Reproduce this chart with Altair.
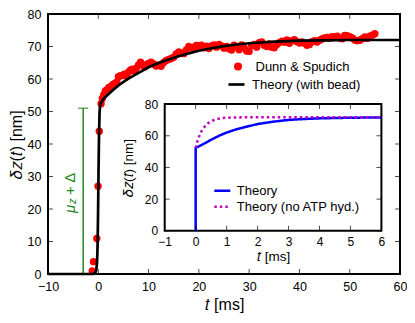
import altair as alt
import pandas as pd

# ---------------- data ----------------
dunn_t = [-1.2, -0.95, -0.3, -0.05, 0.2, 0.55, 0.8, 1.1, 1.4, 1.8, 2.1, 2.5, 2.9, 3.3, 3.7,
          4.0, 4.4, 4.8, 5.2, 5.6, 6.0, 6.4, 6.8, 7.2, 7.6, 8.0, 8.4, 8.8, 9.2, 9.6,
          10.0, 10.5, 11.0, 11.5, 12.0, 12.5, 13.0, 13.5, 14.0, 14.5, 15.0, 15.5, 16.0, 16.5, 17.0,
          17.5, 18.0, 18.5, 19.0, 19.5, 20.0, 20.5, 21.0, 21.5, 22.0, 22.5, 23.0, 23.5, 24.0, 24.5,
          25.0, 25.5, 26.0, 26.5, 27.0, 27.5, 28.0, 28.5, 29.0, 29.5, 30.0, 30.5, 31.0, 31.5, 32.0,
          32.5, 33.0, 33.5, 34.0, 34.5, 35.0, 35.5, 36.0, 36.5, 37.0, 37.5, 38.0, 38.5, 39.0, 39.5,
          40.0, 40.5, 41.0, 41.5, 42.0, 42.5, 43.0, 43.5, 44.0, 44.5, 45.0, 45.5, 46.0, 46.5, 47.0,
          47.5, 48.0, 48.5, 49.0, 49.5, 50.0, 50.5, 51.0, 51.5, 52.0, 52.5, 53.0, 53.5, 54.0, 54.5, 55.0]
dunn_z = [0.9, 3.8, 10.9, 27.0, 43.9, 52.4, 54.0, 55.2, 56.3, 56.8, 57.4, 57.7, 58.3, 58.6, 59.1,
          60.7, 61.0, 61.1, 61.5, 60.9, 62.1, 62.8, 63.0, 62.5, 63.4, 64.3, 65.2, 64.2, 63.7, 64.5,
          64.8, 65.2, 64.6, 64.0, 64.3, 63.9, 65.1, 65.7, 66.0, 66.3, 66.7, 67.7, 68.3, 68.0, 67.8,
          68.9, 70.0, 69.6, 69.8, 70.3, 70.0, 70.4, 69.6, 70.1, 69.4, 70.2, 70.5, 69.8, 70.6, 70.2,
          69.5, 70.0, 69.3, 68.9, 70.4, 69.9, 69.0, 70.5, 69.6, 68.6, 68.5, 70.3, 70.6, 69.8, 71.2,
          71.4, 70.4, 70.0, 70.8, 69.8, 69.6, 70.6, 71.2, 71.6, 71.3, 72.0, 71.0, 71.8, 72.1, 71.5,
          71.1, 71.4, 71.0, 70.4, 70.6, 71.5, 71.8, 71.4, 71.9, 72.3, 72.6, 72.8, 72.5, 73.0, 72.9,
          73.2, 72.6, 72.4, 73.4, 73.3, 73.0, 72.6, 72.0, 71.8, 71.9, 72.4, 72.9, 72.5, 73.2, 73.5, 73.9]

bead_t = [-10, -1.0, -0.6, -0.4, -0.25, -0.15, -0.05, 0.05, 0.15, 0.25, 0.35, 0.5, 1, 2, 3, 4, 5, 6,
          8, 10, 12, 14, 16, 18, 20, 22, 25, 28, 30, 35, 40, 45, 50, 55, 60]
bead_z = [0, 0, 0.3, 1.2, 3.5, 8, 18, 32, 43, 49.5, 51.8, 52.6, 53.8, 55.3, 56.7, 58.0, 59.1, 60.1,
          61.9, 63.6, 64.9, 66.0, 67.0, 67.9, 68.7, 69.3, 70.1, 70.7, 71.0, 71.5, 71.8, 71.9, 72.0, 72.0, 72.0]

theory_t = [0, 0, 0.1, 0.2, 0.4, 0.6, 0.8, 1.0, 1.3, 1.6, 2.0, 2.5, 3.0, 3.5, 4.0, 5.0, 6.0]
theory_z = [0, 52.3, 53.3, 54.3, 56.4, 58.5, 60.4, 62.0, 64.0, 65.5, 67.4, 68.9, 70.0, 70.6, 71.0, 71.4, 71.6]

noatp_t = [0, 0.05, 0.1, 0.15, 0.2, 0.3, 0.4, 0.5, 0.65, 0.8, 1.0, 1.3, 2.0, 3.0, 4.0, 5.0, 6.0]
noatp_z = [52.3, 56.2, 59.0, 61.4, 63.3, 66.0, 67.9, 69.2, 70.4, 71.0, 71.4, 71.6, 71.7, 71.7, 71.7, 71.7, 71.7]

main_xticks = [-10, 0, 10, 20, 30, 40, 50, 60]
main_yticks = [0, 10, 20, 30, 40, 50, 60, 70, 80]
inset_xticks = [-1, 0, 1, 2, 3, 4, 5, 6]
inset_yticks = [0, 20, 40, 60, 80]

series_main = ["Dunn & Spudich", "Theory (with bead)"]
series_inset = ["Theory", "Theory (no ATP hyd.)"]

mu_delta = 51        # height of the jump bar (nm)
mu_delta_t = -3      # time position of the bar (ms)
label_t, label_z = -5.7, 18.8

# ---------------- style / layout ----------------
FONT = "Liberation Sans"
GREEN = "#228b22"
RED = "#ff0000"
BLUE = "#0000ff"
MAGENTA = "#c000c0"
W, H = 352, 260
INSET_XR = [116.7, 333.4]
INSET_YR = [216.8, 90.1]

ax_main_x = alt.Axis(values=main_xticks, title="𝑡 [ms]", labelFontSize=12.5, titleFontSize=16,
                     labelPadding=6, titlePadding=4, labelFlush=False, labelOverlap=False)
ax_main_y = alt.Axis(values=main_yticks, title="𝛿𝑧(𝑡) [nm]", labelFontSize=12.5, titleFontSize=16,
                     labelPadding=7, titlePadding=3, labelFlush=False, labelOverlap=False)
ax_in_x = alt.Axis(orient="bottom", offset=-(H - INSET_YR[0]), values=inset_xticks, title="𝑡 [ms]",
                   labelFontSize=12, titleFontSize=13.5, labelPadding=6, titlePadding=2,
                   labelFlush=False, labelOverlap=False)
ax_in_y = alt.Axis(orient="left", offset=-INSET_XR[0], values=inset_yticks, title="𝛿𝑧(𝑡) [nm]",
                   labelFontSize=12, titleFontSize=13.5, labelPadding=7, titlePadding=9,
                   labelFlush=False, labelOverlap=False)


def mx(field=None, datum=None):
    sc = alt.Scale(domain=[-10, 60], nice=False, zero=False)
    if datum is not None:
        return alt.XDatum(datum, type="quantitative", scale=sc, axis=ax_main_x)
    return alt.X(field, type="quantitative", scale=sc, axis=ax_main_x)


def my(field=None, datum=None):
    sc = alt.Scale(domain=[0, 80], nice=False, zero=False)
    if datum is not None:
        return alt.YDatum(datum, type="quantitative", scale=sc, axis=ax_main_y)
    return alt.Y(field, type="quantitative", scale=sc, axis=ax_main_y)


def ix(field=None, datum=None):
    sc = alt.Scale(domain=[-1, 6], range=INSET_XR, nice=False, zero=False)
    if datum is not None:
        return alt.XDatum(datum, type="quantitative", scale=sc, axis=ax_in_x)
    return alt.X(field, type="quantitative", scale=sc, axis=ax_in_x)


def iy(field=None, datum=None):
    sc = alt.Scale(domain=[0, 80], range=INSET_YR, nice=False, zero=False)
    if datum is not None:
        return alt.YDatum(datum, type="quantitative", scale=sc, axis=ax_in_y)
    return alt.Y(field, type="quantitative", scale=sc, axis=ax_in_y)


one = pd.DataFrame({"k": [0]})

# ---------------- main panel ----------------
dunn_df = pd.DataFrame({"t": dunn_t, "z": dunn_z, "src": series_main[0]})
bead_df = pd.DataFrame({"t": bead_t, "z": bead_z, "src": series_main[1], "i": range(len(bead_t))})

green_bar = alt.Chart(one).mark_rule(color=GREEN, strokeWidth=1.5).encode(
    x=mx(datum=mu_delta_t), y=my(datum=0), y2=alt.Y2Datum(mu_delta))
green_caps = alt.Chart(pd.DataFrame({"v": [0, mu_delta]})).mark_tick(
    orient="horizontal", size=10, thickness=1.5, color=GREEN).encode(
    x=mx(datum=mu_delta_t), y=my("v"))
txt_common = dict(angle=270, align="left", baseline="middle", font=FONT, color=GREEN)
g_mu = alt.Chart(one).mark_text(text="μ", fontSize=15, fontStyle="italic", **txt_common).encode(
    x=mx(datum=label_t), y=my(datum=label_z))
g_z = alt.Chart(one).mark_text(text="z", fontSize=11, fontStyle="italic", dx=9, dy=3, **txt_common).encode(
    x=mx(datum=label_t), y=my(datum=label_z))
g_rest = alt.Chart(one).mark_text(text="+ Δ", fontSize=15, dx=18, **txt_common).encode(
    x=mx(datum=label_t), y=my(datum=label_z))

points = alt.Chart(dunn_df).mark_point(filled=True, size=55, opacity=1, shape="circle").encode(
    x=mx("t"), y=my("z"),
    fill=alt.Fill("src:N", scale=alt.Scale(domain=[series_main[0]], range=[RED]),
                  legend=alt.Legend(orient="none", legendX=183.5, legendY=46, title=None,
                                    symbolType="circle", symbolSize=64, labelFontSize=13,
                                    labelOffset=11, padding=0)))
bead = alt.Chart(bead_df).mark_line(strokeWidth=2.7).encode(
    x=mx("t"), y=my("z"),
    order="i:Q",
    stroke=alt.Stroke("src:N", scale=alt.Scale(domain=[series_main[1]], range=["black"]),
                      legend=alt.Legend(orient="none", legendX=179, legendY=61, title=None,
                                        symbolType="stroke", symbolSize=256, symbolStrokeWidth=2.7,
                                        labelFontSize=13, labelOffset=6, padding=0)))

xt = pd.DataFrame({"v": main_xticks})
yt = pd.DataFrame({"v": main_yticks})
tick_kw = dict(size=5, thickness=1, color="black")
tb = alt.Chart(xt).mark_tick(orient="vertical", yOffset=-2.5, **tick_kw).encode(x=mx("v"), y=my(datum=0))
tt = alt.Chart(xt).mark_tick(orient="vertical", yOffset=2.5, **tick_kw).encode(x=mx("v"), y=my(datum=80))
tl = alt.Chart(yt).mark_tick(orient="horizontal", xOffset=2.5, **tick_kw).encode(y=my("v"), x=mx(datum=-10))
tr = alt.Chart(yt).mark_tick(orient="horizontal", xOffset=-2.5, **tick_kw).encode(y=my("v"), x=mx(datum=60))

main = alt.layer(green_bar, green_caps, g_mu, g_z, g_rest, points, bead, tb, tt, tl, tr)

# ---------------- inset ----------------
inset_df = pd.concat([
    pd.DataFrame({"t": theory_t, "z": theory_z, "model": series_inset[0], "i": range(len(theory_t))}),
    pd.DataFrame({"t": noatp_t, "z": noatp_z, "model": series_inset[1], "i": range(len(noatp_t))}),
])

inset_bg = alt.Chart(one).mark_rect(fill="white", stroke="black", strokeWidth=2).encode(
    x=ix(datum=-1), x2=alt.X2Datum(6), y=iy(datum=0), y2=alt.Y2Datum(80))

in_legend = alt.Legend(orient="none", legendX=164.8, legendY=169, title=None, symbolType="stroke",
                       symbolSize=256, symbolStrokeWidth=2.5, labelFontSize=13, labelOffset=5,
                       padding=0, rowPadding=0, clipHeight=15.4)
in_lines = alt.Chart(inset_df).mark_line(strokeWidth=2.5).encode(
    x=ix("t"), y=iy("z"),
    order="i:Q",
    stroke=alt.Stroke("model:N", scale=alt.Scale(domain=series_inset, range=[BLUE, MAGENTA]), legend=in_legend),
    strokeDash=alt.StrokeDash("model:N", scale=alt.Scale(domain=series_inset, range=[[1, 0], [2.5, 3]]),
                              legend=in_legend))

ixt = pd.DataFrame({"v": inset_xticks})
iyt = pd.DataFrame({"v": inset_yticks})
itb = alt.Chart(ixt).mark_tick(orient="vertical", yOffset=-2.5, **tick_kw).encode(x=ix("v"), y=iy(datum=0))
itt = alt.Chart(ixt).mark_tick(orient="vertical", yOffset=2.5, **tick_kw).encode(x=ix("v"), y=iy(datum=80))
itl = alt.Chart(iyt).mark_tick(orient="horizontal", xOffset=2.5, **tick_kw).encode(y=iy("v"), x=ix(datum=-1))
itr = alt.Chart(iyt).mark_tick(orient="horizontal", xOffset=-2.5, **tick_kw).encode(y=iy("v"), x=ix(datum=6))

inset = alt.layer(inset_bg, in_lines, itb, itt, itl, itr)

chart = alt.layer(main, inset).resolve_scale(
    x="independent", y="independent", fill="independent", stroke="independent", strokeDash="independent"
).properties(
    width=W, height=H, autosize=alt.AutoSizeParams(type="none"),
    padding={"left": 40, "top": 6, "right": 7, "bottom": 41}
).configure_view(stroke="black", strokeWidth=2).configure_axis(
    labelFont=FONT, titleFont=FONT, labelColor="black", titleColor="black", titleFontWeight="normal",
    grid=False, domain=False, ticks=False
).configure_legend(labelFont=FONT, labelColor="black")

chart.save("out.html", embed_options={"renderer": "svg", "actions": False})
